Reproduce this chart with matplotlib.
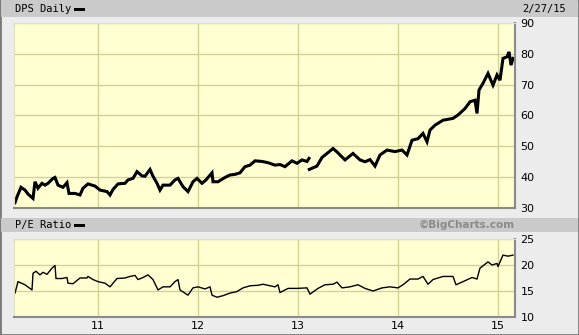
import numpy as np
import matplotlib
matplotlib.use('Agg')
import matplotlib.pyplot as plt
from matplotlib.patches import Rectangle

# DPS daily price (year fraction, price); NaN marks the break in the line
price_year = [10.17, 10.19, 10.23, 10.27, 10.30, 10.35, 10.37, 10.40, 10.44, 10.47, 10.50,
              10.55, 10.57, 10.60, 10.65, 10.69, 10.71, 10.77, 10.82, 10.85, 10.90, 10.97,
              11.02, 11.09, 11.12, 11.15, 11.20, 11.27, 11.30, 11.35, 11.39, 11.44, 11.47,
              11.52, 11.55, 11.59, 11.62, 11.65, 11.72, 11.77, 11.80, 11.85, 11.90, 11.95,
              11.99, 12.04, 12.08, 12.14, 12.15, 12.20, 12.27, 12.32, 12.37, 12.42, 12.47,
              12.52, 12.57, 12.64, 12.70, 12.77, 12.82, 12.87, 12.94, 12.99, 13.04, 13.09,
              13.11, 13.112, 13.113, 13.19, 13.24, 13.29, 13.35, 13.39, 13.42, 13.47, 13.55,
              13.62, 13.67, 13.72, 13.77, 13.82, 13.89, 13.97, 14.04, 14.09, 14.14, 14.20,
              14.25, 14.29, 14.32, 14.37, 14.45, 14.55, 14.60, 14.67, 14.72, 14.77, 14.79,
              14.81, 14.85, 14.90, 14.95, 14.99, 15.02, 15.05, 15.09, 15.11, 15.13, 15.15]
price_vals = [31.6, 33.5, 36.6, 35.7, 34.4, 33.0, 38.4, 36.3, 37.9, 37.3, 37.9,
              39.5, 39.8, 37.3, 36.6, 38.1, 34.6, 34.6, 34.1, 36.3, 37.7, 37.0,
              35.7, 35.2, 34.1, 35.9, 37.7, 37.9, 39.0, 39.5, 41.7, 40.3, 40.2,
              42.4, 40.2, 37.9, 35.7, 37.3, 37.3, 39.0, 39.5, 36.8, 35.2, 38.4,
              39.5, 37.9, 39.0, 41.3, 38.4, 38.4, 39.8, 40.6, 40.8, 41.3, 43.3,
              43.8, 45.2, 45.0, 44.6, 43.8, 44.0, 43.3, 45.2, 44.4, 45.5, 45.0,
              46.0, np.nan, 42.4, 43.5, 46.3, 47.6, 49.2, 48.1, 47.1, 45.5, 47.6,
              45.5, 44.9, 45.6, 43.5, 47.1, 48.7, 48.2, 48.7, 47.1, 51.9, 52.4,
              54.1, 51.4, 55.2, 56.8, 58.4, 59.0, 60.1, 62.2, 64.4, 64.9, 60.6,
              68.2, 70.4, 73.6, 69.8, 73.1, 71.4, 78.5, 79.0, 80.6, 76.3, 78.5]

# P/E ratio (year fraction, ratio)
pe_year = [10.17, 10.20, 10.27, 10.34, 10.35, 10.38, 10.42, 10.45, 10.49, 10.54, 10.57,
           10.58, 10.64, 10.69, 10.70, 10.75, 10.82, 10.89, 10.90, 10.95, 11.00, 11.07,
           11.12, 11.19, 11.27, 11.32, 11.37, 11.40, 11.45, 11.50, 11.55, 11.60, 11.65,
           11.72, 11.77, 11.80, 11.82, 11.90, 11.95, 12.00, 12.07, 12.12, 12.14, 12.19,
           12.25, 12.32, 12.39, 12.45, 12.52, 12.60, 12.65, 12.77, 12.80, 12.82, 12.90,
           12.99, 13.09, 13.12, 13.20, 13.27, 13.35, 13.39, 13.44, 13.52, 13.60, 13.67,
           13.75, 13.84, 13.92, 14.00, 14.05, 14.12, 14.20, 14.25, 14.30, 14.35, 14.45,
           14.55, 14.58, 14.65, 14.74, 14.79, 14.82, 14.90, 14.94, 14.99, 15.00, 15.05,
           15.10, 15.15]
pe_vals = [14.6, 16.8, 16.2, 15.2, 18.4, 18.8, 18.1, 18.6, 18.2, 19.4, 19.9,
           17.4, 17.4, 17.6, 16.5, 16.4, 17.5, 17.5, 17.8, 17.2, 16.8, 16.5,
           15.8, 17.4, 17.5, 17.8, 18.0, 17.2, 17.6, 18.1, 17.2, 15.2, 15.8,
           15.8, 16.8, 17.2, 15.2, 14.2, 15.6, 15.8, 15.4, 15.8, 14.2, 13.8,
           14.1, 14.6, 14.9, 15.6, 16.0, 16.1, 16.3, 15.8, 16.2, 14.7, 15.5,
           15.5, 15.6, 14.4, 15.5, 16.2, 16.3, 16.7, 15.6, 15.8, 16.2, 15.5,
           15.0, 15.6, 15.8, 15.6, 16.2, 17.3, 17.3, 17.8, 16.3, 17.2, 17.8,
           17.8, 16.2, 16.8, 17.6, 17.3, 19.4, 20.6, 20.0, 20.3, 19.7, 21.9,
           21.7, 21.9]

price_ticks = [30, 40, 50, 60, 70, 80, 90]
pe_ticks = [10, 15, 20, 25]
year_ticks = [11, 12, 13, 14, 15]
date_label = '2/27/15'

W, H = 579, 335
fig = plt.figure(figsize=(W / 100, H / 100), dpi=100)
fig.patch.set_facecolor('#ececec')

def fx(px):
    return px / W

def fy(py):
    return 1 - py / H

# outer border and header bars
fig.patches.append(Rectangle((0, 0), 1, 1, transform=fig.transFigure,
                             fill=False, edgecolor='#7a7a7a', lw=2))
fig.patches.append(Rectangle((fx(1), fy(17)), fx(577), 17 / H, transform=fig.transFigure,
                             facecolor='#cacaca', edgecolor='none'))
fig.patches.append(Rectangle((fx(1), fy(232)), fx(577), 14 / H, transform=fig.transFigure,
                             facecolor='#cacaca', edgecolor='none'))

mono = 'DejaVu Sans Mono'
fig.text(fx(15), fy(9), 'DPS Daily', fontsize=7.5, family=mono, va='center', color='black')
fig.patches.append(Rectangle((fx(74), fy(10.5)), fx(11), 3 / H, transform=fig.transFigure,
                             facecolor='black', edgecolor='none'))
fig.text(fx(566), fy(9), date_label, fontsize=7.5, family=mono, va='center', ha='right')
fig.text(fx(15), fy(225), 'P/E Ratio', fontsize=7.5, family=mono, va='center', color='black')
fig.patches.append(Rectangle((fx(74), fy(226.5)), fx(11), 3 / H, transform=fig.transFigure,
                             facecolor='black', edgecolor='none'))
fig.text(fx(515), fy(225), '\u00a9BigCharts.com', fontsize=7.5, fontweight='bold',
         color='#8a8a8a', va='center', ha='right')

ax1 = fig.add_axes([fx(14), fy(207.6), fx(501), 184.6 / H])
ax2 = fig.add_axes([fx(14), fy(317), fx(501), 78 / H])

xlim = (10.16, 15.17)
for ax, ticks in ((ax1, price_ticks), (ax2, pe_ticks)):
    ax.set_facecolor('#ffffd2')
    ax.set_xlim(*xlim)
    ax.set_ylim(ticks[0], ticks[-1])
    ax.set_yticks(ticks)
    ax.set_xticks(year_ticks)
    ax.grid(True, color='#d2d296', lw=1)
    ax.set_axisbelow(True)
    ax.yaxis.tick_right()
    ax.tick_params(axis='both', length=0, labelsize=8, pad=4)
    for s in ('top', 'left'):
        ax.spines[s].set_color('#e0e0c0')
    for s in ('bottom', 'right'):
        ax.spines[s].set_color('#8a8a8a')
        ax.spines[s].set_linewidth(1.5)

ax1.set_xticklabels([])
ax2.set_xticklabels([str(t) for t in year_ticks])
ax2.tick_params(axis='x', pad=3)

ax1.plot(price_year, price_vals, color='black', lw=2.2, solid_joinstyle='miter')
ax2.plot(pe_year, pe_vals, color='black', lw=1.0)

fig.savefig('out.png', dpi=100, facecolor=fig.get_facecolor())
